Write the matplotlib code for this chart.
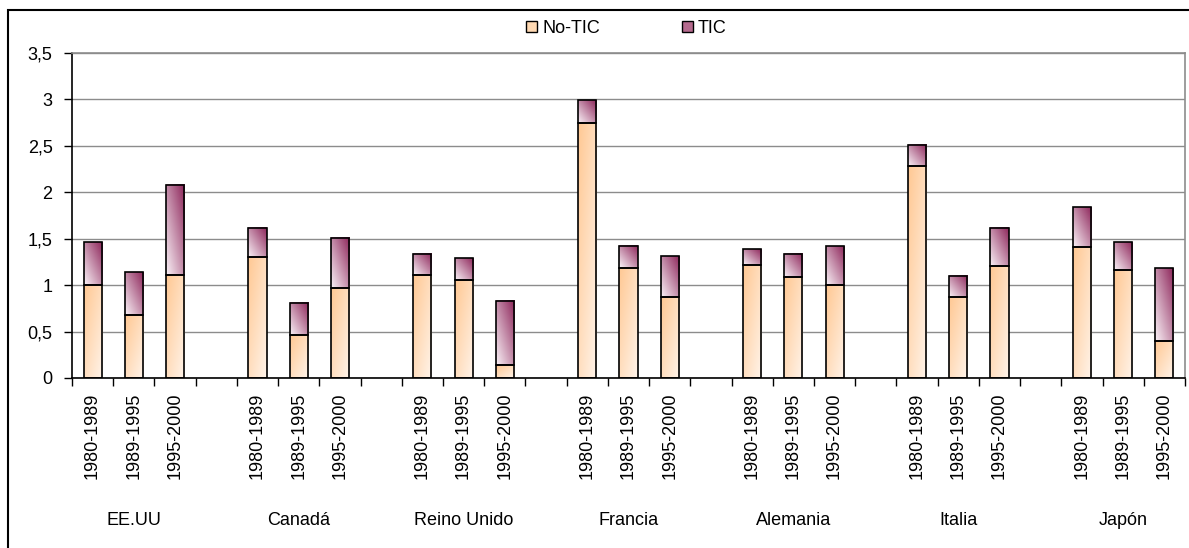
import matplotlib
matplotlib.use("Agg")
import matplotlib.pyplot as plt
import numpy as np
from matplotlib.patches import Patch, Rectangle
from matplotlib.colors import to_rgb
import matplotlib.transforms as mtransforms

plt.rcParams['font.family'] = ['Liberation Sans', 'DejaVu Sans']

countries = ['EE.UU', 'Canadá', 'Reino Unido', 'Francia', 'Alemania', 'Italia', 'Japón']
periods = ['1980-1989', '1989-1995', '1995-2000']
# one value per country and period (row = country)
no_tic = [[1.00, 0.68, 1.11],
          [1.30, 0.46, 0.97],
          [1.11, 1.06, 0.14],
          [2.75, 1.19, 0.87],
          [1.22, 1.09, 1.00],
          [2.28, 0.87, 1.21],
          [1.41, 1.16, 0.40]]
tic = [[0.46, 0.46, 0.97],
       [0.32, 0.35, 0.54],
       [0.23, 0.23, 0.69],
       [0.24, 0.23, 0.44],
       [0.17, 0.25, 0.42],
       [0.23, 0.23, 0.41],
       [0.43, 0.30, 0.78]]
yticks = [0, 0.5, 1, 1.5, 2, 2.5, 3, 3.5]
ytick_labels = ['0', '0,5', '1', '1,5', '2', '2,5', '3', '3,5']

peach_dark, peach_light = np.array(to_rgb('#FFC893')), np.array(to_rgb('#FFF4EA'))
plum_dark, plum_light = np.array(to_rgb('#8C2459')), np.array(to_rgb('#FAF2F7'))

FS = 13


def gradient_fill(ax, bar, c_a, c_b, kind):
    x0, y0 = bar.get_x(), bar.get_y()
    w, h = bar.get_width(), bar.get_height()
    n = 64
    u = np.linspace(0, 1, n)
    U, V = np.meshgrid(u, u)
    if kind == 'notic':
        t = (U + (1 - V)) / 2      # dark top-left -> light bottom-right
    else:
        t = ((1 - U) + (1 - V)) / 2  # dark top-right -> light bottom-left
    img = c_a[None, None, :] * (1 - t[..., None]) + c_b[None, None, :] * t[..., None]
    ax.imshow(img, extent=[x0, x0 + w, y0, y0 + h], origin='lower',
              aspect='auto', interpolation='bilinear', zorder=2)


fig = plt.figure(figsize=(11.89, 5.48), dpi=100)
ax = fig.add_axes([72 / 1189, 170 / 548, 1113 / 1189, 325 / 548])

pos = []
for g in range(len(countries)):
    for j in range(len(periods)):
        pos.append(g * 4 + j)
nt = np.array(no_tic).ravel()
tc = np.array(tic).ravel()

width = 0.44
bars1 = ax.bar(pos, nt, width, facecolor='none', edgecolor='black', linewidth=1.2, zorder=3)
bars2 = ax.bar(pos, tc, width, bottom=nt, facecolor='none', edgecolor='black', linewidth=1.2, zorder=3)
for b in bars1:
    gradient_fill(ax, b, peach_dark, peach_light, 'notic')
for b in bars2:
    gradient_fill(ax, b, plum_dark, plum_light, 'tic')

ax.set_xlim(-0.5, 26.5)
ax.set_ylim(0, 3.5)
ax.set_yticks(yticks)
ax.set_yticklabels(ytick_labels, fontsize=FS)
ax.yaxis.grid(True, color='#8c8c8c', linewidth=1)
ax.set_axisbelow(True)

ax.set_xticks(np.arange(-0.5, 27, 1))
ax.set_xticklabels([])
ax.set_xticks(pos, minor=True)
ax.set_xticklabels(periods * len(countries), minor=True, rotation=90, fontsize=FS, va='top')
ax.tick_params(axis='x', which='major', length=6, width=1, direction='out')
ax.tick_params(axis='x', which='minor', length=0, pad=10.5)
ax.tick_params(axis='y', length=6, width=1, direction='out', pad=8)

for s in ['left', 'bottom']:
    ax.spines[s].set_color('black')
    ax.spines[s].set_linewidth(1.2)
for s in ['top', 'right']:
    ax.spines[s].set_color('#8c8c8c')
    ax.spines[s].set_linewidth(1.2)

trans = mtransforms.blended_transform_factory(ax.transData, ax.transAxes)
for g, name in enumerate(countries):
    ax.text(g * 4 + 1, -0.437, name, transform=trans, ha='center', va='center', fontsize=FS)

handles = [Patch(facecolor='#FFD9B3', edgecolor='black', label='No-TIC'),
           Patch(facecolor='#B56A8E', edgecolor='black', label='TIC')]
fig.legend(handles=handles, loc='center', bbox_to_anchor=(0.527, 0.948), ncol=2,
           frameon=False, fontsize=FS, handlelength=0.6, handleheight=0.6,
           handletextpad=0.3, columnspacing=4.5)

fig.patches.append(Rectangle((8 / 1189, -0.1), 1.2, 538 / 548 + 0.1, transform=fig.transFigure,
                             fill=False, edgecolor='black', linewidth=1.5))

fig.savefig('out.png', dpi=100)
